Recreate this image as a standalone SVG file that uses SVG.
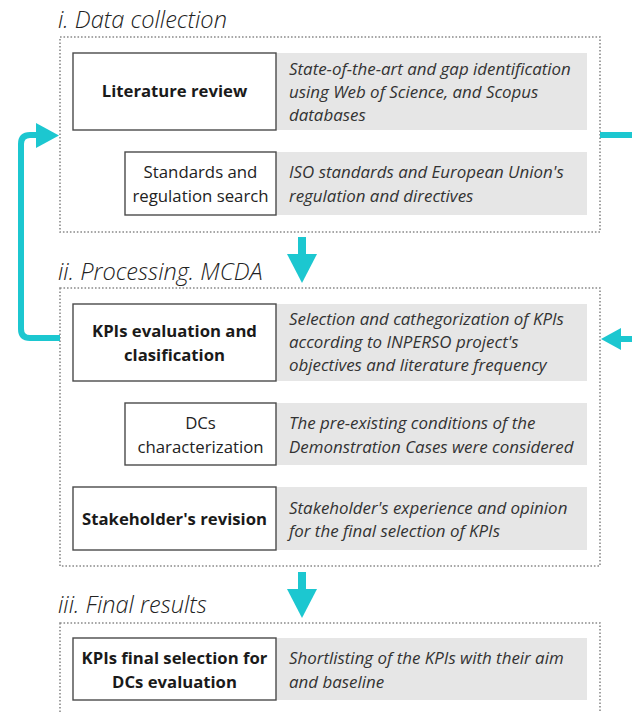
<svg xmlns="http://www.w3.org/2000/svg" width="632" height="713" viewBox="0 0 632 713">
<style>
.title{font-family:"Open Sans","Liberation Sans",sans-serif;font-style:italic;font-weight:300;font-size:23.6px;fill:#222}
.frame{fill:none;stroke:#8a8a8a;stroke-width:1.6;stroke-dasharray:1.6 1.9}
.node{fill:#fff;stroke:#4a4a4a;stroke-width:1.4}
.desc{fill:#e6e6e6}
.bt{font-family:"Open Sans","Liberation Sans",sans-serif;font-weight:700;font-size:16.7px;fill:#1a1a1a;text-anchor:middle}
.rt{font-family:"Open Sans","Liberation Sans",sans-serif;font-weight:400;font-size:16.8px;fill:#222;text-anchor:middle}
.dt{font-family:"Open Sans","Liberation Sans",sans-serif;font-style:italic;font-weight:400;font-size:16.9px;fill:#333}
.link{fill:none;stroke:#1cc7d0;stroke-width:6}
.head{fill:#1cc7d0}
</style>
<rect width="632" height="713" fill="#fff"/>

<g id="stage1">
<text class="title" x="58" y="28">i. Data collection</text>
<rect class="frame" x="60" y="37" width="540" height="195"/>
</g>
<g id="literature-review">
<rect class="desc" x="276" y="53" width="311" height="77"/>
<rect class="node" x="73" y="53" width="203" height="77"/>
<text class="bt" x="174.5" y="97">Literature review</text>
<text class="dt" x="289" y="75">State-of-the-art and gap identification</text>
<text class="dt" x="289" y="98">using Web of Science, and Scopus</text>
<text class="dt" x="289" y="121">databases</text>
</g>
<g id="standards-search">
<rect class="desc" x="276" y="152" width="311" height="63"/>
<rect class="node" x="125" y="152" width="151" height="63"/>
<text class="rt" x="200.5" y="178">Standards and</text>
<text class="rt" x="200.5" y="202">regulation search</text>
<text class="dt" x="289" y="178">ISO standards and European Union's</text>
<text class="dt" x="289" y="202">regulation and directives</text>
</g>

<g id="stage2">
<text class="title" x="58" y="280">ii. Processing. MCDA</text>
<rect class="frame" x="60" y="288" width="540" height="278"/>
</g>
<g id="kpis-evaluation">
<rect class="desc" x="276" y="304" width="311" height="77"/>
<rect class="node" x="73" y="304" width="203" height="77"/>
<text class="bt" x="174.5" y="337">KPIs evaluation and</text>
<text class="bt" x="174.5" y="361">clasification</text>
<text class="dt" x="289" y="325">Selection and cathegorization of KPIs</text>
<text class="dt" x="289" y="348">according to INPERSO project's</text>
<text class="dt" x="289" y="371">objectives and literature frequency</text>
</g>
<g id="dcs-characterization">
<rect class="desc" x="276" y="403" width="311" height="62"/>
<rect class="node" x="125" y="403" width="151" height="62"/>
<text class="rt" x="200.5" y="429">DCs</text>
<text class="rt" x="200.5" y="453">characterization</text>
<text class="dt" x="289" y="429">The pre-existing conditions of the</text>
<text class="dt" x="289" y="453">Demonstration Cases were considered</text>
</g>
<g id="stakeholder-revision">
<rect class="desc" x="276" y="487" width="311" height="63"/>
<rect class="node" x="73" y="487" width="203" height="63"/>
<text class="bt" x="174.5" y="525">Stakeholder's revision</text>
<text class="dt" x="289" y="514">Stakeholder's experience and opinion</text>
<text class="dt" x="289" y="537">for the final selection of KPIs</text>
</g>

<g id="stage3">
<text class="title" x="58" y="613">iii. Final results</text>
<rect class="frame" x="60" y="623" width="540" height="110"/>
</g>
<g id="kpis-final">
<rect class="desc" x="276" y="638" width="311" height="62"/>
<rect class="node" x="73" y="638" width="203" height="62"/>
<text class="bt" x="174.5" y="664">KPIs final selection for</text>
<text class="bt" x="174.5" y="688">DCs evaluation</text>
<text class="dt" x="289" y="664">Shortlisting of the KPIs with their aim</text>
<text class="dt" x="289" y="688">and baseline</text>
</g>

<g id="connectors">
<rect class="head" x="298" y="237" width="8" height="19"/>
<polygon class="head" points="287,254 317,254 302,283"/>
<rect class="head" x="298" y="572" width="8" height="19"/>
<polygon class="head" points="287,589 317,589 302,618"/>
<path class="link" d="M60 338 H30 Q21 338 21 329 V144 Q21 135 30 135 H40"/>
<polygon class="head" points="36,123 59,135.5 36,148"/>
<path class="link" stroke-width="5" d="M600 135 H632"/>
<path class="link" d="M617 339 H632"/>
<polygon class="head" points="601,339 621,328 621,350"/>
</g>
</svg>
